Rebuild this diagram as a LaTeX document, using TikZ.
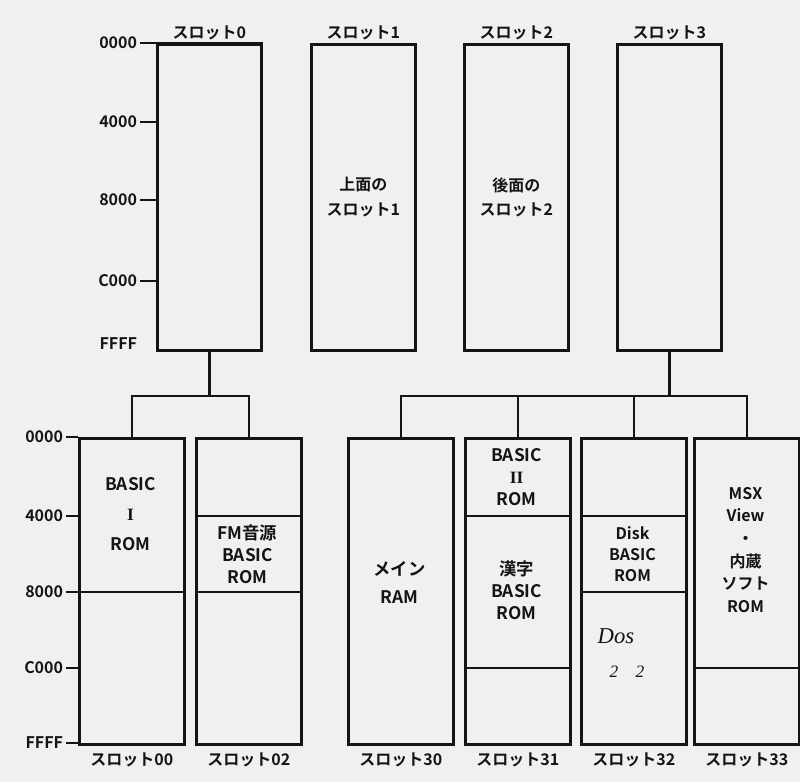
\documentclass[tikz,border=0pt]{standalone}
\usepackage{xcolor}
\usepackage{tikz}
\usepackage{fontspec}
\setmainfont{Noto Sans CJK JP}[BoldFont={Noto Sans CJK JP Bold}]
\newfontfamily\numfont{Liberation Serif}
\newfontfamily\handfont{Liberation Serif}
\usetikzlibrary{positioning}
\definecolor{paper}{RGB}{240, 240, 238}
\definecolor{ink}{RGB}{20, 20, 20}

\begin{document}
\begin{tikzpicture}[x=0.75pt, y=-0.75pt,
  slotbox/.style={draw=ink, rectangle, line width=1.9pt, inner sep=0pt, minimum width=78pt, minimum height=229.5pt, anchor=north west},
  subbox/.style={slotbox, minimum width=78.75pt},
  slotlabel/.style={font=\bfseries\fontsize{12}{14}\selectfont, text=ink},
  addr/.style={anchor=east, inner sep=2pt, font=\bfseries\fontsize{12}{14}\selectfont, text=ink},
  boxtext/.style={align=center, text=ink, font=\bfseries\fontsize{13}{16.5}\selectfont},
  bus/.style={draw=ink, line width=1.9pt},
  tick/.style={draw=ink, line width=1.9pt}]
  \useasboundingbox[fill=paper] (0,0) rectangle (800,782);

  % Upper slots
  \node[slotbox] (s0) at (156,43) {};
  \node[slotbox] (s1) at (310,43) {};
  \node[slotbox] (s2) at (463,43) {};
  \node[slotbox] (s3) at (616,43) {};
  \node[slotlabel, above=-1pt of s0] (n0) {スロット0};
  \node[slotlabel, above=-1pt of s1] (n1) {スロット1};
  \node[slotlabel, above=-1pt of s2] (n2) {スロット2};
  \node[slotlabel, above=-1pt of s3] (n3) {スロット3};
  \node[boxtext, font=\bfseries\fontsize{12}{18.5}\selectfont] (t1) at (s1.center) {上面の\\スロット1};
  \node[boxtext, font=\bfseries\fontsize{12}{18.5}\selectfont] (t2) at (s2.center) {後面の\\スロット2};

  % Upper address scale
  \node[addr] (u0000) at (140,43) {0000};
  \node[addr] (u4000) at (140,122) {4000};
  \node[addr] (u8000) at (140,200) {8000};
  \node[addr] (uC000) at (140,281) {C000};
  \node[addr] (uFFFF) at (140,344) {FFFF};
  \draw[tick] (u0000.east) -- (s0.north east |- u0000);
  \draw[tick] (u4000.east) -- (s0.west |- u4000);
  \draw[tick] (u8000.east) -- (s0.west |- u8000);
  \draw[tick] (uC000.east) -- (s0.west |- uC000);

  % Lower slots
  \node[subbox] (s00) at (78,437) {};
  \node[subbox] (s02) at (195,437) {};
  \node[subbox] (s30) at (347,437) {};
  \node[subbox] (s31) at (464,437) {};
  \node[subbox] (s32) at (580,437) {};
  \node[subbox] (s33) at (693,437) {};
  \node[slotlabel, below=2pt of s00] (n00) {スロット00};
  \node[slotlabel, below=2pt of s02] (n02) {スロット02};
  \node[slotlabel, below=2pt of s30] (n30) {スロット30};
  \node[slotlabel, below=2pt of s31] (n31) {スロット31};
  \node[slotlabel, below=2pt of s32] (n32) {スロット32};
  \node[slotlabel, below=2pt of s33] (n33) {スロット33};

  % Lower address scale
  \node[addr] (l0000) at (66,437) {0000};
  \node[addr] (l4000) at (66,516) {4000};
  \node[addr] (l8000) at (66,592) {8000};
  \node[addr] (lC000) at (66,668) {C000};
  \node[addr] (lFFFF) at (66,743) {FFFF};
  \draw[tick] (l0000.east) -- (s00.west |- l0000);
  \draw[tick] (l4000.east) -- (s00.west |- l4000);
  \draw[tick] (l8000.east) -- (s00.west |- l8000);
  \draw[tick] (lC000.east) -- (s00.west |- lC000);
  \draw[tick] (lFFFF.east) -- (s00.west |- lFFFF);

  % Dividers
  \draw[tick] (s00.west |- l8000) -- (s00.east |- l8000);
  \draw[tick] (s02.west |- l4000) -- (s02.east |- l4000);
  \draw[tick] (s02.west |- l8000) -- (s02.east |- l8000);
  \draw[tick] (s31.west |- l4000) -- (s31.east |- l4000);
  \draw[tick] (s31.west |- lC000) -- (s31.east |- lC000);
  \draw[tick] (s32.west |- l4000) -- (s32.east |- l4000);
  \draw[tick] (s32.west |- l8000) -- (s32.east |- l8000);
  \draw[tick] (s33.west |- lC000) -- (s33.east |- lC000);

  % Contents
  \node[boxtext, font=\bfseries\fontsize{13}{22.5}\selectfont] (c00) at (130.5,514) {BASIC\\{\numfont\bfseries I}\\ROM};
  \node[boxtext] (c02) at (247.5,554) {FM音源\\BASIC\\ROM};
  \node[boxtext, font=\bfseries\fontsize{13}{21}\selectfont] (c30) at (399.5,582) {メイン\\RAM};
  \node[boxtext] (c31a) at (516.5,477) {BASIC\\{\numfont\bfseries II}\\ROM};
  \node[boxtext] (c31b) at (516.5,590) {漢字\\BASIC\\ROM};
  \node[boxtext, font=\bfseries\fontsize{12}{15.5}\selectfont] (c32) at (632.5,554) {Disk\\BASIC\\ROM};
  \node[boxtext, font=\bfseries\fontsize{12}{17}\selectfont] (c33) at (745.5,550) {MSX\\View\\・\\内蔵\\ソフト\\ROM};
  \node[text=ink, font=\handfont\itshape\fontsize{17}{17}\selectfont] (h1) at (616,636) {Dos};
  \node[text=ink, font=\handfont\itshape\fontsize{13}{13}\selectfont] (h2) at (627,672) {2\quad 2};

  % Connectors
  \coordinate (j0) at (s0.south |- 0,396);
  \coordinate (j3) at (s3.south |- 0,396);
  \draw[bus] (s0.south) -- (j0);
  \draw[bus] (s00.north) |- (j0) -| (s02.north);
  \draw[bus] (s3.south) -- (j3);
  \draw[bus] (s30.north) |- (j3) -| (s33.north);
  \draw[bus] (s31.north) -- (s31.north |- j3);
  \draw[bus] (s32.north) -- (s32.north |- j3);
\end{tikzpicture}
\end{document}
